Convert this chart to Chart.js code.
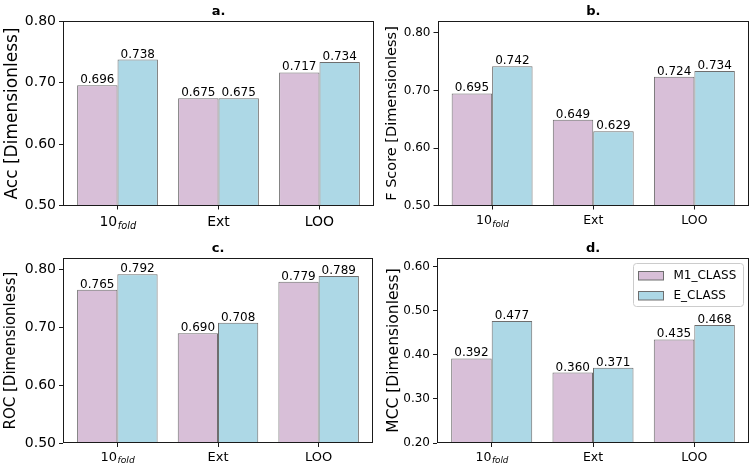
<!DOCTYPE html>
<html>
<head>
<meta charset="utf-8">
<script src="https://cdn.jsdelivr.net/npm/chart.js@4/dist/chart.umd.min.js"></script>
<style>
  html, body { margin: 0; padding: 0; background: #fff; width: 753px; height: 471px; overflow: hidden; }
  canvas { position: absolute; display: block; }
</style>
</head>
<body>
<canvas id="ca" width="376" height="236" style="left:0px;top:0px"></canvas>
<canvas id="cb" width="377" height="236" style="left:376px;top:0px"></canvas>
<canvas id="cc" width="376" height="235" style="left:0px;top:236px"></canvas>
<canvas id="cd" width="377" height="235" style="left:376px;top:236px"></canvas>
<script>
// ---------------- data ----------------
const categories = ['10', 'Ext', 'LOO'];
const categorySubscripts = ['fold', '', ''];
const seriesNames = ['M1_CLASS', 'E_CLASS'];

const accM1 = [0.696, 0.675, 0.717];
const accE  = [0.738, 0.675, 0.734];
const fM1   = [0.695, 0.649, 0.724];
const fE    = [0.742, 0.629, 0.734];
const rocM1 = [0.765, 0.690, 0.779];
const rocE  = [0.792, 0.708, 0.789];
const mccM1 = [0.392, 0.360, 0.435];
const mccE  = [0.477, 0.371, 0.468];

const accTicks = [0.5, 0.6, 0.7, 0.8];
const fTicks   = [0.5, 0.6, 0.7, 0.8];
const rocTicks = [0.5, 0.6, 0.7, 0.8];
const mccTicks = [0.2, 0.3, 0.4, 0.5, 0.6];

const accRange = [0.5, 0.8];
const fRange   = [0.5, 0.82];
const rocRange = [0.5, 0.82];
const mccRange = [0.2, 0.62];

const panelTitles = ['a.', 'b.', 'c.', 'd.'];
const yLabels = ['Acc [Dimensionless]', 'F Score [Dimensionless]', 'ROC [Dimensionless]', 'MCC [Dimensionless]'];

// ---------------- layout / style ----------------
const COLORS = ['#D8BFD8', '#ADD8E6'];
const EDGE = '#6e6e6e';
const FONT = "'DejaVu Sans', sans-serif";

const panels = [
  { id: 'ca', m1: accM1, e: accE, ticks: accTicks, range: accRange, title: panelTitles[0], ylabel: yLabels[0],
    box: { x: 0, y: 0, w: 376, h: 236 }, plot: { l: 63, t: 21.5, r: 374, b: 205.5 },
    ytick: 14, xtick: 14, ylab: 17, ylabX: 12.5, xlabOff: 20.5, legend: false },
  { id: 'cb', m1: fM1, e: fE, ticks: fTicks, range: fRange, title: panelTitles[1], ylabel: yLabels[1],
    box: { x: 376, y: 0, w: 377, h: 236 }, plot: { l: 437.5, t: 21.5, r: 749, b: 205.5 },
    ytick: 12, xtick: 12.5, ylab: 14.5, ylabX: 392, xlabOff: 18.5, legend: false },
  { id: 'cc', m1: rocM1, e: rocE, ticks: rocTicks, range: rocRange, title: panelTitles[2], ylabel: yLabels[2],
    box: { x: 0, y: 236, w: 376, h: 235 }, plot: { l: 63, t: 258, r: 373, b: 443 },
    ytick: 14, xtick: 13, ylab: 15, ylabX: 11, xlabOff: 17.5, legend: false },
  { id: 'cd', m1: mccM1, e: mccE, ticks: mccTicks, range: mccRange, title: panelTitles[3], ylabel: yLabels[3],
    box: { x: 376, y: 236, w: 377, h: 235 }, plot: { l: 437, t: 258, r: 749, b: 443 },
    ytick: 12, xtick: 12.5, ylab: 15.5, ylabX: 393.5, xlabOff: 17.5, legend: true }
];

const decorPlugin = {
  id: 'decor',
  afterDatasetsDraw(chart) {
    const p = chart.options.plugins.decor.panel;
    const ctx = chart.ctx;
    const ca = chart.chartArea;
    ctx.save();
    // value labels
    ctx.fillStyle = '#000';
    ctx.font = '12px ' + FONT;
    ctx.textAlign = 'center';
    ctx.textBaseline = 'alphabetic';
    chart.data.datasets.forEach((ds, di) => {
      const meta = chart.getDatasetMeta(di);
      meta.data.forEach((el, i) => {
        ctx.fillText(ds.data[i].y.toFixed(3), el.x, el.y - 2);
      });
    });
    // frame
    ctx.strokeStyle = '#1a1a1a';
    ctx.lineWidth = 1;
    const L = Math.round(ca.left) + 0.5, T = Math.round(ca.top - 0.5) + 0.5;
    const R = Math.round(ca.right) - 0.5, B = Math.round(ca.bottom) - 0.5;
    ctx.strokeRect(L, T, R - L, B - T);
    // title
    ctx.font = 'bold 13px ' + FONT;
    ctx.textAlign = 'center';
    ctx.fillText(p.title, (ca.left + ca.right) / 2, ca.top - 6.5);
    // x category labels (with subscript)
    const xs = chart.scales.x;
    categories.forEach((c, i) => {
      const cx = xs.getPixelForValue(i);
      const by = ca.bottom + p.xlabOff;
      const mainFont = p.xtick + 'px ' + FONT;
      const subSize = p.xtick * 0.7;
      const subFont = 'italic ' + subSize + 'px ' + FONT;
      ctx.font = mainFont;
      const wm = ctx.measureText(c).width;
      let ws = 0;
      if (categorySubscripts[i]) { ctx.font = subFont; ws = ctx.measureText(categorySubscripts[i]).width; }
      const x0 = cx - (wm + ws) / 2;
      ctx.textAlign = 'left';
      ctx.font = mainFont;
      ctx.fillText(c, x0, by);
      if (ws) { ctx.font = subFont; ctx.fillText(categorySubscripts[i], x0 + wm + 0.5, by + p.xtick * 0.2); }
    });
    // legend
    if (p.legend) {
      const lx = ca.right - 115.5, ly = ca.top + 5.5, lw = 110, lh = 43;
      ctx.fillStyle = 'rgba(255,255,255,0.85)';
      ctx.strokeStyle = '#cccccc';
      ctx.beginPath();
      ctx.roundRect(lx, ly, lw, lh, 3);
      ctx.fill(); ctx.stroke();
      seriesNames.forEach((n, k) => {
        const sy = ly + 8 + k * 20;
        ctx.fillStyle = COLORS[k];
        ctx.fillRect(lx + 5, sy, 25, 8.5);
        ctx.strokeStyle = EDGE;
        ctx.strokeRect(lx + 5, sy, 25, 8.5);
        ctx.fillStyle = '#000';
        ctx.font = '12px ' + FONT;
        ctx.textAlign = 'left';
        ctx.textBaseline = 'middle';
        ctx.fillText(n, lx + 40, sy + 4.5);
      });
    }
    ctx.restore();
  }
};

panels.forEach(p => {
  const yScaleWidth = p.plot.l - p.box.x;
  const xScaleHeight = (p.box.y + p.box.h) - p.plot.b;
  new Chart(document.getElementById(p.id), {
    type: 'bar',
    data: {
      datasets: [
        { label: seriesNames[0], data: categories.map((c, i) => ({ x: i, y: p.m1[i] })),
          backgroundColor: COLORS[0], borderColor: EDGE, borderWidth: 1, borderSkipped: false },
        { label: seriesNames[1], data: categories.map((c, i) => ({ x: i, y: p.e[i] })),
          backgroundColor: COLORS[1], borderColor: EDGE, borderWidth: 1, borderSkipped: false }
      ]
    },
    options: {
      responsive: false,
      animation: false,
      devicePixelRatio: 1,
      categoryPercentage: 0.8,
      barPercentage: 1.0,
      layout: { padding: { top: p.plot.t - p.box.y, right: (p.box.x + p.box.w) - p.plot.r, bottom: 0, left: 0 } },
      plugins: {
        legend: { display: false },
        tooltip: { enabled: false },
        title: { display: false },
        decor: { panel: p }
      },
      scales: {
        x: {
          type: 'linear',
          offset: false,
          min: -0.54, max: 2.54,
          afterBuildTicks: s => { s.ticks = categories.map((c, i) => ({ value: i })); },
          afterFit: s => { s.height = xScaleHeight; },
          ticks: { callback: () => '', font: { size: 1 } },
          grid: { display: true, offset: false, drawOnChartArea: false, drawTicks: true, tickLength: 4, color: '#1a1a1a' },
          border: { display: false }
        },
        y: {
          type: 'linear',
          min: p.range[0], max: p.range[1],
          afterBuildTicks: s => { s.ticks = p.ticks.map(v => ({ value: v })); },
          afterFit: s => { s.width = yScaleWidth; },
          ticks: { callback: v => Number(v).toFixed(2), color: '#000', padding: 3,
                   font: { family: FONT, size: p.ytick } },
          grid: { display: true, drawOnChartArea: false, drawTicks: true, tickLength: 4, color: '#1a1a1a' },
          border: { display: false },
          title: { display: true, text: p.ylabel, color: '#000',
                   font: { family: FONT, size: p.ylab, lineHeight: 1 },
                   padding: { top: (p.ylabX - p.box.x) - p.ylab / 2, bottom: 0 } }
        }
      }
    },
    plugins: [decorPlugin]
  });
});
</script>
</body>
</html>
